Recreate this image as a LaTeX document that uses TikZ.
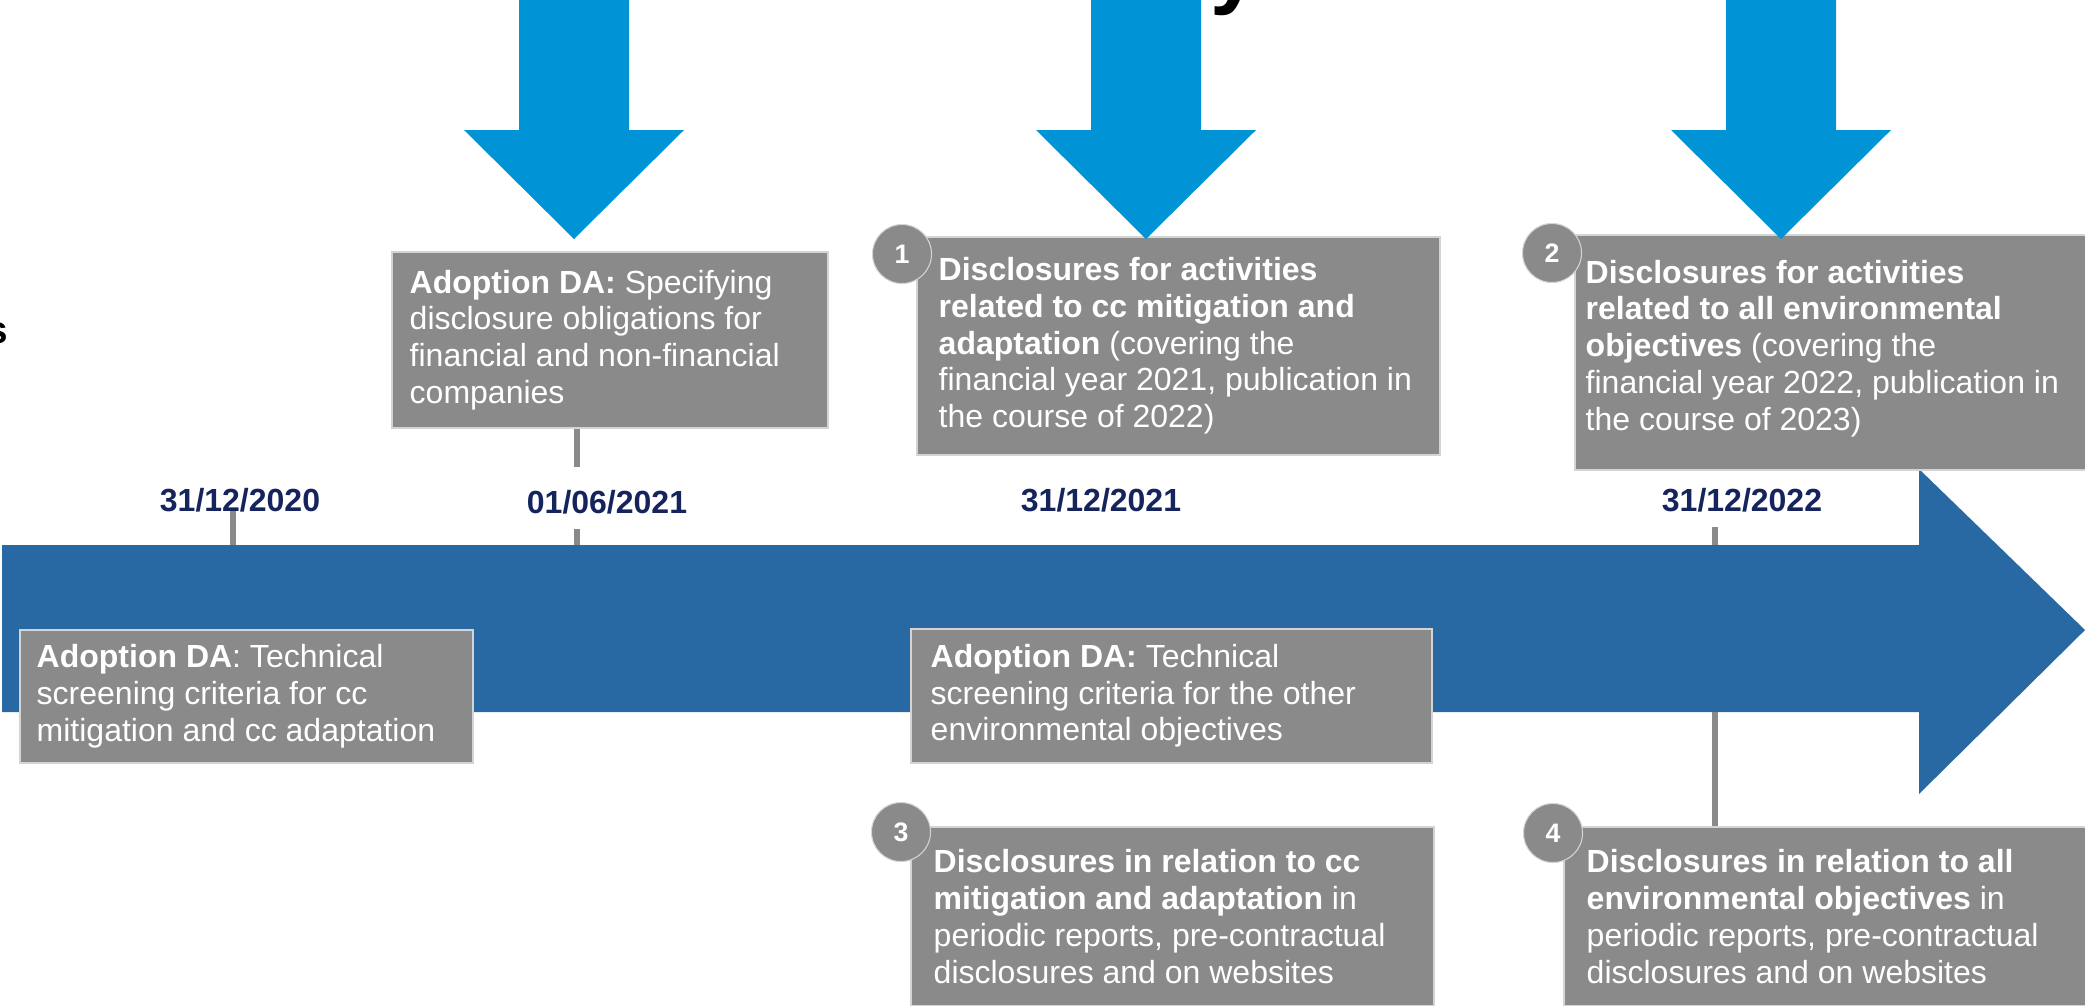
\documentclass[tikz,border=0pt]{standalone}
\usepackage{fontspec}
\setmainfont{Liberation Sans}
\usepackage{tikz}
\usetikzlibrary{calc, positioning}

\definecolor{timeblue}{HTML}{2869A4}
\definecolor{pointcyan}{HTML}{0094D6}
\definecolor{linkcyan}{HTML}{29ABE2}
\definecolor{boxgray}{HTML}{8A8A8A}
\definecolor{boxedge}{HTML}{D4D4D4}
\definecolor{datenavy}{HTML}{15245C}

\newcommand{\boxfont}{\fontsize{9.1pt}{10.45pt}\selectfont}

\tikzset{
    infobox/.style={draw=boxedge, line width=0.5pt, fill=boxgray, anchor=north west, inner sep=0pt},
    infotext/.style={anchor=west, align=left, inner sep=0pt, text=white, font=\boxfont},
    datelabel/.style={inner sep=0pt, text=datenavy, font=\boxfont\bfseries},
    ticker/.style={draw=boxgray, line width=1.7pt},
    badge/.style={circle, fill=boxgray, draw=boxedge, line width=0.3pt, minimum size=0.59cm, inner sep=0pt, text=white, font=\fontsize{7.6pt}{9pt}\selectfont\bfseries}
}

\begin{document}
\begin{tikzpicture}[x=0.01cm, y=-0.01cm]
    \useasboundingbox (0, 0) rectangle (2085, 1005);
    \clip (0, 0) rectangle (2085, 1005);
    \fill[white] (0, 0) rectangle (2085, 1005);

    \node[anchor=base west, inner sep=0pt, font=\fontsize{25pt}{30pt}\selectfont\bfseries] (ytail) at (1210, -3) {y};
    \node[anchor=east, inner sep=0pt, font=\fontsize{11pt}{13pt}\selectfont\bfseries] (sfrag) at (9, 333) {s};
    \node[anchor=east, inner sep=0pt, text=linkcyan, font=\fontsize{11pt}{13pt}\selectfont] (nfrag) at (4, 413) {n};

    \fill[timeblue] (2, 545) -- (1919, 545) -- (1919, 469) -- (2085, 630) -- (1919, 794) -- (1919, 712) -- (2, 712) -- cycle;

    \coordinate (m2020) at (233, 545);
    \coordinate (m2021) at (577, 545);
    \coordinate (m2022) at (1715, 545);
    \draw[ticker] (m2020) -- ++(0, -35);
    \draw[ticker] (m2021) -- ++(0, -16);
    \draw[ticker] (m2022) -- ++(0, -18);
    \draw[ticker] (1715, 712) -- (1715, 830);

    \node[infobox, minimum width=4.36cm, minimum height=1.76cm] (bA) at (391, 251) {};
    \node[infotext] (tA) at ([xshift=0.18cm]bA.west) {\textbf{Adoption DA:} Specifying\\disclosure obligations for\\financial and non-financial\\companies};
    \draw[ticker] (bA.south -| m2021) -- ++(0, 38);

    \node[infobox, minimum width=4.53cm, minimum height=1.33cm] (bB) at (19, 629) {};
    \node[infotext] (tB) at ([xshift=0.17cm]bB.west) {\textbf{Adoption DA}: Technical\\screening criteria for cc\\mitigation and cc adaptation};

    \node[infobox, minimum width=5.23cm, minimum height=2.18cm] (bC) at (916, 236) {};
    \node[infotext] (tC) at ([xshift=0.22cm]bC.west) {\textbf{Disclosures for activities}\\\textbf{related to cc mitigation and}\\\textbf{adaptation} (covering the\\financial year 2021, publication in\\the course of 2022)};

    \node[infobox, minimum width=5.4cm, minimum height=2.35cm] (bD) at (1574, 234) {};
    \node[infotext] (tD) at ([xshift=0.11cm, yshift=0.04cm]bD.west) {\textbf{Disclosures for activities}\\\textbf{related to all environmental}\\\textbf{objectives} (covering the\\financial year 2022, publication in\\the course of 2023)};

    \node[infobox, minimum width=5.21cm, minimum height=1.34cm] (bE) at (910, 628) {};
    \node[infotext] (tE) at ([xshift=0.2cm]bE.west) {\textbf{Adoption DA:} Technical\\screening criteria for the other\\environmental objectives};

    \node[infobox, minimum width=5.23cm, minimum height=1.79cm] (bF) at (910, 826) {};
    \node[infotext] (tF) at ([xshift=0.23cm]bF.west) {\textbf{Disclosures in relation to cc}\\\textbf{mitigation and adaptation} in\\periodic reports, pre-contractual\\disclosures and on websites};

    \node[infobox, minimum width=5.4cm, minimum height=1.79cm] (bG) at (1563, 826) {};
    \node[infotext] (tG) at ([xshift=0.23cm]bG.west) {\textbf{Disclosures in relation to all}\\\textbf{environmental objectives} in\\periodic reports, pre-contractual\\disclosures and on websites};

    \node[badge] (n1) at (902, 254) {1};
    \node[badge] (n2) at (1552, 253) {2};
    \node[badge] (n3) at (901, 832) {3};
    \node[badge] (n4) at (1553, 833) {4};

    \foreach \cx in {574, 1146, 1781} {
        \fill[pointcyan] (\cx-55, 0) -- (\cx+55, 0) -- (\cx+55, 130) -- (\cx+110, 130) -- (\cx, 239) -- (\cx-110, 130) -- (\cx-55, 130) -- cycle;
    }

    \node[datelabel] (d2020) at (240, 500) {31/12/2020};
    \node[datelabel] (d0621) at (607, 502) {01/06/2021};
    \node[datelabel] (d2021) at (1101, 500) {31/12/2021};
    \node[datelabel] (d2022) at (1742, 500) {31/12/2022};
\end{tikzpicture}
\end{document}
